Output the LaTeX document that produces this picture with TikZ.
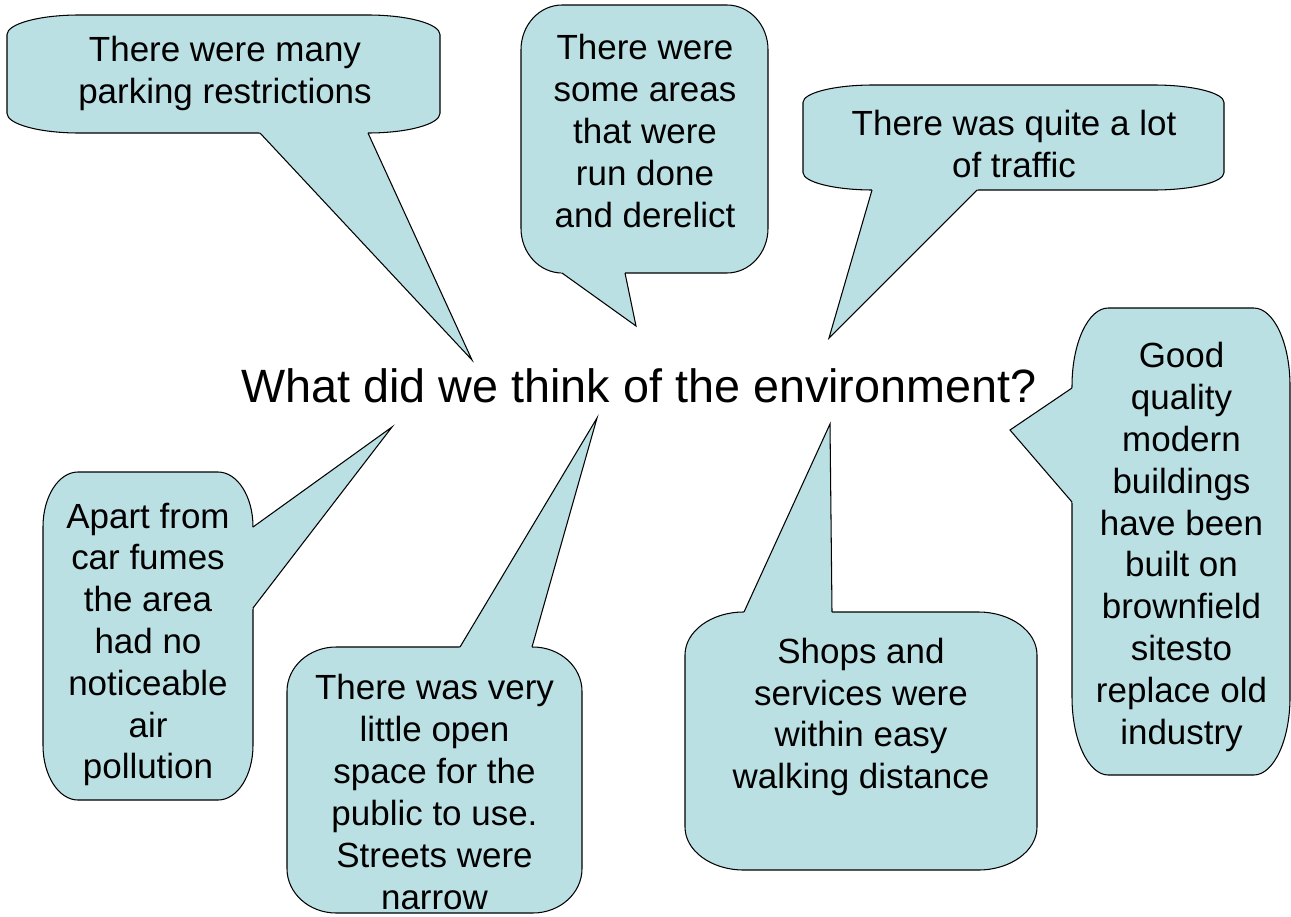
\documentclass[tikz,border=0pt]{standalone}
\usepackage{fontspec}
\setmainfont{Liberation Sans}
\usetikzlibrary{calc}

\definecolor{bubblefill}{RGB}{187,224,227}

% rounded callout body, corners (#1,#2) and (#3,#4) given in pixels
\newcommand{\bubblebody}[4]{%
  \pgfmathsetmacro{\bubrx}{(#3-#1)/6}
  \pgfmathsetmacro{\bubry}{(#4-#2)/6}
  \pgfmathsetmacro{\bubkx}{0.448*\bubrx}
  \pgfmathsetmacro{\bubky}{0.448*\bubry}
  \filldraw[bubblestyle] ({#1},{#2+\bubry})
    .. controls ({#1},{#2+\bubky}) and ({#1+\bubkx},{#2}) .. ({#1+\bubrx},{#2})
    -- ({#3-\bubrx},{#2})
    .. controls ({#3-\bubkx},{#2}) and ({#3},{#2+\bubky}) .. ({#3},{#2+\bubry})
    -- ({#3},{#4-\bubry})
    .. controls ({#3},{#4-\bubky}) and ({#3-\bubkx},{#4}) .. ({#3-\bubrx},{#4})
    -- ({#1+\bubrx},{#4})
    .. controls ({#1+\bubkx},{#4}) and ({#1},{#4-\bubky}) .. ({#1},{#4-\bubry})
    -- cycle;
}

% pointer of a callout: tip #1, base points #2 and #3 on the body edge
\newcommand{\bubbletail}[3]{%
  \fill[bubblefill] #1 -- ($#2!-3pt!#1$) -- ($#3!-3pt!#1$) -- cycle;
  \draw[bubbleline] #2 -- #1 -- #3;
}

\begin{document}
\begin{tikzpicture}[x=0.02cm, y=-0.02cm]
        \tikzstyle{bubblestyle}=[fill=bubblefill, draw=black, line width=0.6pt]
        \tikzstyle{bubbleline}=[draw=black, line width=0.6pt, line join=miter]
        \tikzstyle{bubbletext}=[align=center, inner sep=0pt, font=\fontsize{19.9}{23.8}\selectfont]
        \tikzstyle{titlestyle}=[inner sep=0pt, font=\fontsize{26.6}{31}\selectfont]
        \useasboundingbox (0, 0) rectangle (1291, 916);

        % callout with the parking remark, top left
        \bubblebody{7}{15}{440}{133}
        \coordinate (parktip) at (472, 360);
        \bubbletail{(parktip)}{(260, 133)}{(368, 133)}
        \node[bubbletext] at (225, 73.5) (park) {There were many\\parking restrictions};

        % callout about the run down areas, top middle
        \bubblebody{521}{5}{768}{273}
        \coordinate (derelicttip) at (636, 326);
        \bubbletail{(derelicttip)}{(562, 273)}{(625, 273)}
        \node[bubbletext] at (645, 131) (derelict) {There were\\some areas\\that were\\run done\\and derelict};

        % callout about the traffic, top right
        \bubblebody{803}{85}{1224}{190}
        \coordinate (traffictip) at (829, 338);
        \bubbletail{(traffictip)}{(872, 190)}{(977, 190)}
        \node[bubbletext] at (1014, 144) (traffic) {There was quite a lot\\of traffic};

        % callout about the air, left
        \bubblebody{43}{472}{253}{800}
        \coordinate (airtip) at (392, 427);
        \bubbletail{(airtip)}{(253, 527)}{(253, 608)}
        \node[bubbletext] at (148, 644.5) (air) {Apart from\\car fumes\\the area\\had no\\noticeable\\air\\pollution};

        % callout about open space, bottom left
        \bubblebody{287}{647}{582}{913}
        \coordinate (spacetip) at (597, 418);
        \bubbletail{(spacetip)}{(460, 647)}{(532, 647)}
        \node[bubbletext] at (434.5, 792) (space) {There was very\\little open\\space for the\\public to use.\\Streets were\\narrow};

        % callout about the shops, bottom middle
        \bubblebody{685}{612}{1037}{870}
        \coordinate (shopstip) at (830, 424);
        \bubbletail{(shopstip)}{(744, 612)}{(832, 612)}
        \node[bubbletext] at (861, 717) (shops) {Shops and\\services were\\within easy\\walking distance};

        % callout about the new buildings, far right
        \bubblebody{1072}{308}{1290}{775}
        \coordinate (buildtip) at (1010, 430);
        \bubbletail{(buildtip)}{(1072, 388)}{(1072, 502)}
        \node[bubbletext] at (1181.5, 547) (build) {Good\\quality\\modern\\buildings\\have been\\built on\\brownfield\\sitesto\\replace old\\industry};

        % the question in the middle
        \node[titlestyle] at (639, 386) (title) {What did we think of the environment?};
    \end{tikzpicture}
\end{document}
